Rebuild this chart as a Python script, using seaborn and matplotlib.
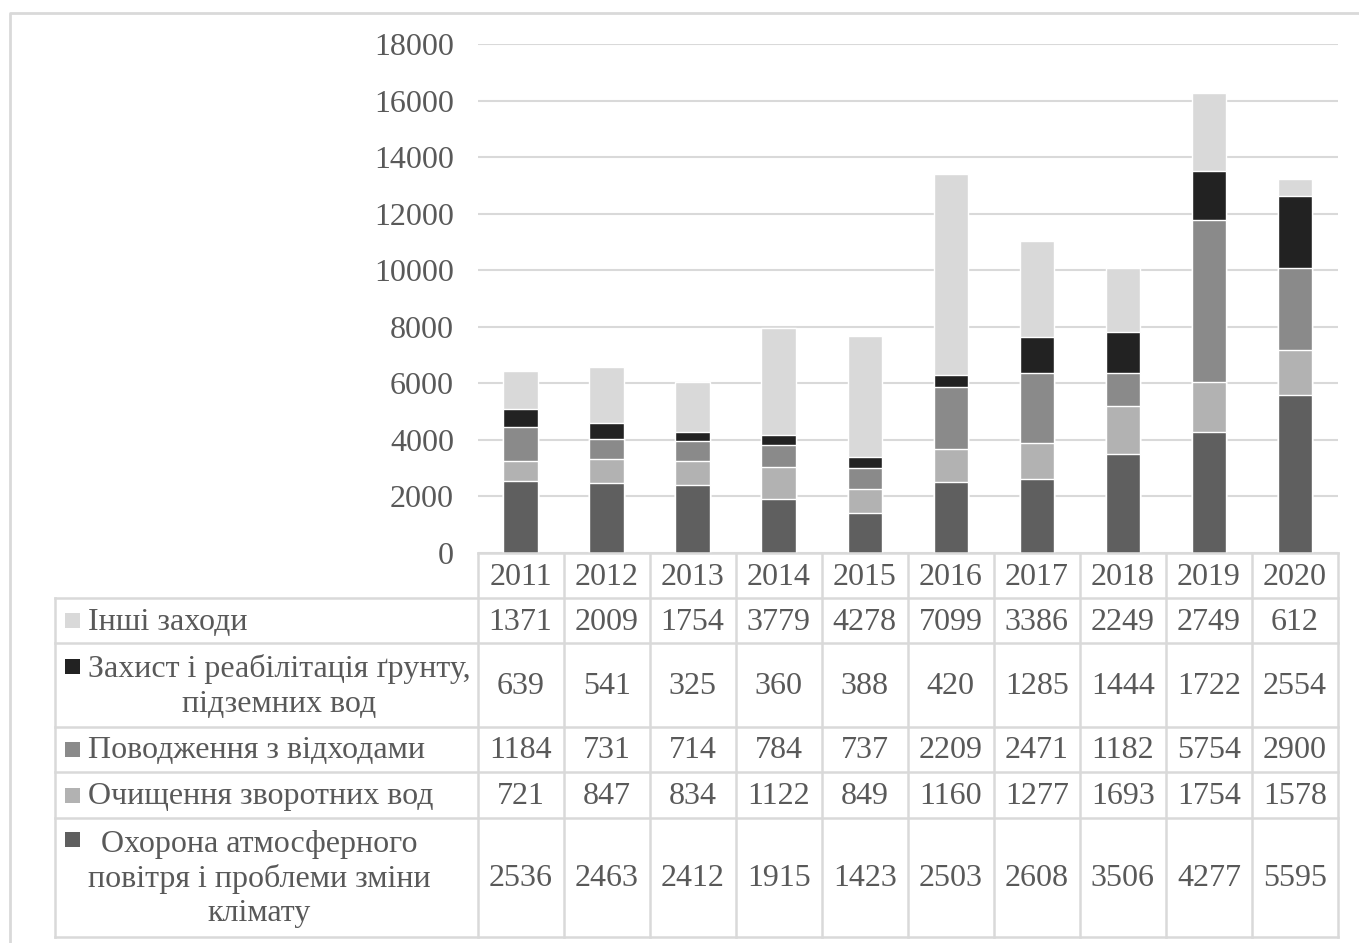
import matplotlib
matplotlib.use("Agg")
import matplotlib.pyplot as plt
import matplotlib.patches as mpatches
import seaborn as sns
import numpy as np

# data
years = ["2011", "2012", "2013", "2014", "2015", "2016", "2017", "2018", "2019", "2020"]
air = [2536, 2463, 2412, 1915, 1423, 2503, 2608, 3506, 4277, 5595]
wastewater = [721, 847, 834, 1122, 849, 1160, 1277, 1693, 1754, 1578]
waste = [1184, 731, 714, 784, 737, 2209, 2471, 1182, 5754, 2900]
soil = [639, 541, 325, 360, 388, 420, 1285, 1444, 1722, 2554]
other = [1371, 2009, 1754, 3779, 4278, 7099, 3386, 2249, 2749, 612]

labels = [
    "Охорона атмосферного\nповітря і проблеми зміни\nклімату",
    "Очищення зворотних вод",
    "Поводження з відходами",
    "Захист і реабілітація ґрунту,\nпідземних вод",
    "Інші заходи",
]
series = [air, wastewater, waste, soil, other]
colors = ["#5f5f5f", "#b2b2b2", "#8a8a8a", "#222222", "#d9d9d9"]

TEXT = "#595959"
GRID = "#d9d9d9"

sns.set_style("white")
plt.rcParams["font.family"] = ["Liberation Serif", "DejaVu Serif"]

W, H = 1359, 943
fig = plt.figure(figsize=(W / 100, H / 100), dpi=100)

# plot area in pixels
px_left, px_right, px_top, px_bottom = 477.5, 1338, 44, 553
ax = fig.add_axes([px_left / W, 1 - px_bottom / H,
                   (px_right - px_left) / W, (px_bottom - px_top) / H])

cum = np.cumsum(np.array(series), axis=0)
# draw from the top total down so lower segments cover upper ones
for i in range(len(series) - 1, -1, -1):
    sns.barplot(x=years, y=cum[i], color=colors[i], saturation=1,
                width=0.4, ax=ax, zorder=3)

fs = 23
ax.set_xlim(-0.5, len(years) - 0.5)
ax.set_ylim(0, 18000)
ax.set_yticks(range(0, 18001, 2000))
ax.yaxis.grid(True, color=GRID, linewidth=1.5, zorder=0)
ax.set_axisbelow(True)
for s in ax.spines.values():
    s.set_visible(False)
ax.set_xticks([])
ax.set_xlabel("")
ax.tick_params(axis="y", length=0, pad=17, labelsize=fs, labelcolor=TEXT)

# table overlay in pixel coordinates
tab = fig.add_axes([0, 0, 1, 1], zorder=5)
tab.set_xlim(0, W)
tab.set_ylim(H, 0)
tab.axis("off")
tab.patch.set_alpha(0)

# outer chart frame
tab.plot([10, 10, W], [H, 13, 13], color=GRID, lw=2)

row_edges = [553, 598, 643, 727, 772, 818, 937]
tbl_left = 55
ncol = len(years)
colw = (px_right - px_left) / ncol
lc = dict(color=GRID, lw=1.8, solid_capstyle="projecting")

tab.plot([px_left, px_right], [row_edges[0]] * 2, **lc)
for y in row_edges[1:]:
    tab.plot([tbl_left, px_right], [y, y], **lc)
tab.plot([tbl_left, tbl_left], [row_edges[1], row_edges[-1]], **lc)
for j in range(ncol + 1):
    x = px_left + j * colw
    tab.plot([x, x], [row_edges[0], row_edges[-1]], **lc)

# header years
for j, yr in enumerate(years):
    tab.text(px_left + (j + 0.5) * colw, (row_edges[0] + row_edges[1]) / 2 + 2, yr,
             ha="center", va="center", fontsize=fs, color=TEXT)

# rows top to bottom: other, soil, waste, wastewater, air
line_h = 38
order = [4, 3, 2, 1, 0]
for r, si in enumerate(order):
    y0, y1 = row_edges[r + 1], row_edges[r + 2]
    yc = (y0 + y1) / 2 + 1.5
    for j, v in enumerate(series[si]):
        tab.text(px_left + (j + 0.5) * colw, yc, str(v),
                 ha="center", va="center", fontsize=fs, color=TEXT)
    nlines = labels[si].count("\n") + 1
    tab.text(88, yc, labels[si], ha="left", va="center", fontsize=fs,
             color=TEXT, multialignment="center", linespacing=1.24)
    first_line = yc - (nlines - 1) / 2 * line_h - 1.5
    tab.add_patch(mpatches.Rectangle((65, first_line - 7.5), 15, 15,
                                     color=colors[si], lw=0))

fig.savefig("out.png", dpi=100)
